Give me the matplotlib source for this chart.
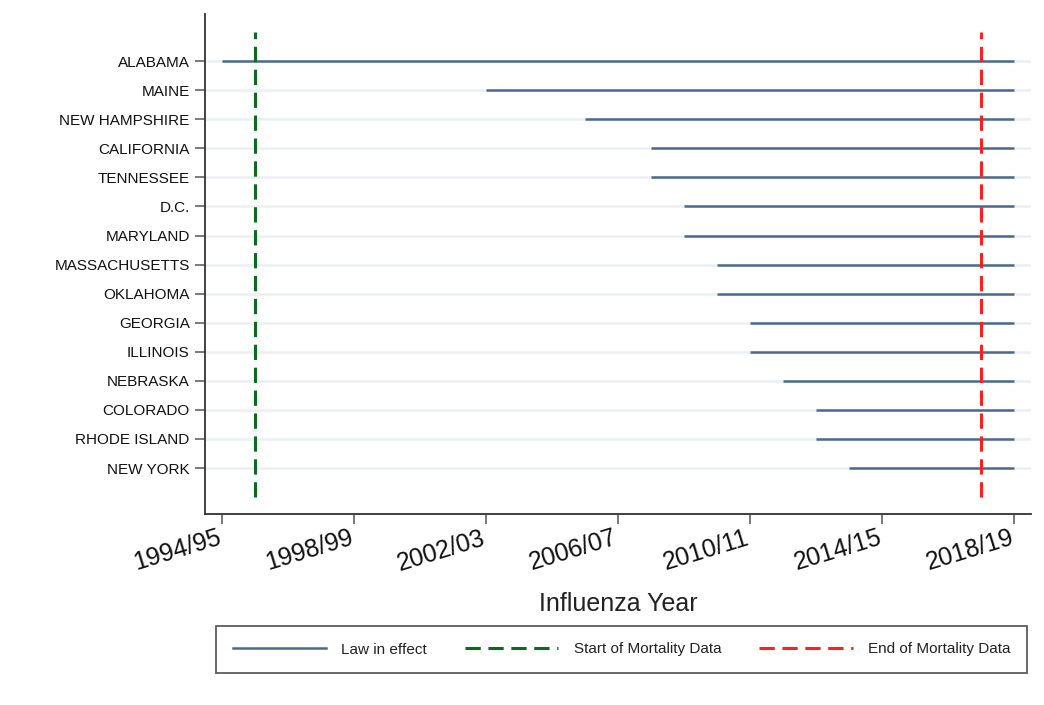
import matplotlib
matplotlib.use("Agg")
import matplotlib.pyplot as plt
from matplotlib.lines import Line2D
from matplotlib.transforms import ScaledTranslation

plt.rcParams['font.family'] = ['Liberation Sans', 'DejaVu Sans']
plt.rcParams['lines.scale_dashes'] = False

# states ordered top to bottom, with the flu season each law took effect
states = ['ALABAMA', 'MAINE', 'NEW HAMPSHIRE', 'CALIFORNIA', 'TENNESSEE', 'D.C.',
          'MARYLAND', 'MASSACHUSETTS', 'OKLAHOMA', 'GEORGIA', 'ILLINOIS',
          'NEBRASKA', 'COLORADO', 'RHODE ISLAND', 'NEW YORK']
law_start = [1994, 2002, 2005, 2007, 2007, 2008, 2008, 2009, 2009,
             2010, 2010, 2011, 2012, 2012, 2013]
law_end = 2018

mortality_start = 1995
mortality_end = 2017

tick_years = [1994, 1998, 2002, 2006, 2010, 2014, 2018]
tick_labels = ['1994/95', '1998/99', '2002/03', '2006/07', '2010/11', '2014/15', '2018/19']

law_color = '#4b6a8d'
start_color = '#0b6b1c'
end_color = '#ff1f1f'

fig = plt.figure(figsize=(10.44, 7.05), dpi=100)
ax = fig.add_axes([205 / 1044, 1 - 514 / 705, (1031 - 205) / 1044, 500 / 705])

n = len(states)
ypos = list(range(n, 0, -1))

for y in ypos:
    ax.axhline(y, color='#ebf0f3', lw=1.8, zorder=0)

for y, s in zip(ypos, law_start):
    ax.hlines(y, s, law_end, color=law_color, lw=1.8, zorder=2)

dash = (0, (11, 5.5))
ax.vlines(mortality_start, 0, n + 1, color=start_color, lw=2.2, linestyles=[dash], zorder=3)
ax.vlines(mortality_end, 0, n + 1, color=end_color, lw=2.2, linestyles=[dash], zorder=3)

ax.set_xlim(1993.5, 2018.5)
ax.set_ylim(-0.58, n + 1.62)

ax.set_yticks(ypos)
ax.set_yticklabels(states, fontsize=11, color='#111111')
ax.set_xticks(tick_years)
ax.set_xticklabels(tick_labels, fontsize=18, rotation=17, ha='right', va='top',
                   rotation_mode='anchor', color='#111111')
ax.tick_params(axis='y', length=7, width=1.1, color='#555555', pad=4)
ax.tick_params(axis='x', length=7.5, width=1.1, color='#555555', pad=1)
# nudge rotated year labels so their ends sit under the ticks
shift = ScaledTranslation(-0.05, 0, fig.dpi_scale_trans)
for lbl in ax.get_xticklabels():
    lbl.set_transform(lbl.get_transform() + shift)

for side in ['top', 'right']:
    ax.spines[side].set_visible(False)
for side in ['left', 'bottom']:
    ax.spines[side].set_color('#333333')
    ax.spines[side].set_linewidth(1.3)

ax.set_xlabel('Influenza Year', fontsize=18, color='#222222', labelpad=12)

handles = [
    Line2D([], [], color=law_color, lw=1.8),
    Line2D([], [], color=start_color, lw=2.2, linestyle=dash),
    Line2D([], [], color=end_color, lw=2.2, linestyle=dash),
]
labels = ['Law in effect', 'Start of Mortality Data', 'End of Mortality Data']
leg = fig.legend(handles, labels, loc='center', ncol=3,
                 bbox_to_anchor=(621.5 / 1044, 1 - 649.5 / 705),
                 fontsize=11, frameon=True, fancybox=False, shadow=False,
                 handlelength=6.1, handletextpad=1.0, columnspacing=2.5,
                 borderpad=1.1)
frame = leg.get_frame()
frame.set_edgecolor('#333333')
frame.set_linewidth(1.3)
for t in leg.get_texts():
    t.set_color('#222222')

fig.savefig('out.png', dpi=100)
